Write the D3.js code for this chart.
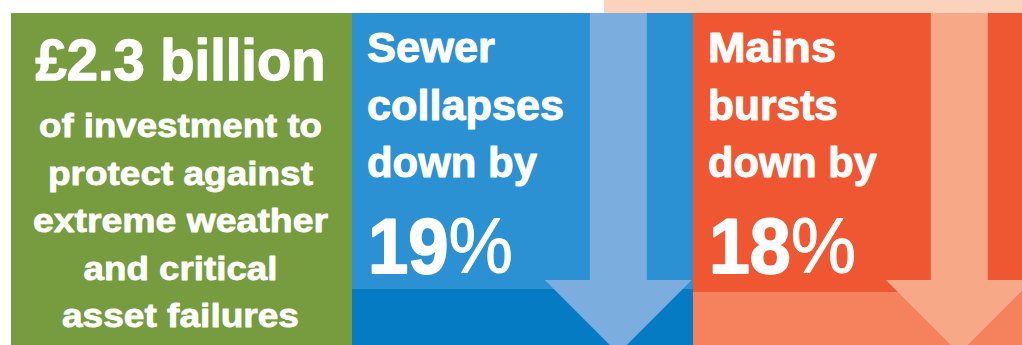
<!DOCTYPE html>
<html><head><meta charset="utf-8">
<script src="https://cdn.jsdelivr.net/npm/d3@7"></script>
<style>html,body{margin:0;padding:0;background:#fff;overflow:hidden}</style>
</head><body>
<svg id="c" width="1022" height="345"></svg>
<script>
// ---- data ----
const categories = ["Investment", "Sewer collapses", "Mains bursts"];
const values = [2.3, 19, 18];
const valueLabels = ["£2.3 billion", "19", "18"];
const investmentLines = ["of investment to", "protect against", "extreme weather", "and critical", "asset failures"];
const sewerLines = ["Sewer", "collapses", "down by"];
const mainsLines = ["Mains", "bursts", "down by"];

// ---- styles ----
const mainColors = ["#769c3f", "#2b91d3", "#ef5732"];
const bandColors = [null, "#057bc3", "#f5825c"];
const arrowColors = [null, "#7badde", "#f7a886"];
const FONT = "'Liberation Sans',Arial,sans-serif";

const W = 1022, H = 345;
const svg = d3.select("#c");
const x = d3.scaleBand().domain(categories).range([11, 1034]).padding(0);
const bw = x.bandwidth();

// peach strip at top
svg.append("rect").attr("x", 604).attr("y", 0).attr("width", W - 604).attr("height", 13).attr("fill", "#fbd2bc");

// panels
const bandTop = [null, 289, 292];
categories.forEach((c, i) => {
  svg.append("rect").attr("x", x(c)).attr("y", 13).attr("width", bw).attr("height", H - 13).attr("fill", mainColors[i]);
  if (bandColors[i]) {
    svg.append("rect").attr("x", x(c)).attr("y", bandTop[i]).attr("width", bw).attr("height", H - bandTop[i]).attr("fill", bandColors[i]);
  }
});

// arrows
categories.forEach((c, i) => {
  if (!arrowColors[i]) return;
  const cx = x(c) + 266.3;
  const sh = 28.5, hh = 73.5, headY = 280, top = 13;
  const pts = [[cx - sh, top], [cx + sh, top], [cx + sh, headY], [cx + hh, headY], [cx, headY + hh], [cx - hh, headY], [cx - sh, headY]];
  svg.append("path").attr("d", d3.line()(pts) + "Z").attr("fill", arrowColors[i]);
});

function txt(str, px, py, size, len, anchor, sw) {
  const t = svg.append("text").attr("x", px).attr("y", py).attr("fill", "#fff")
    .attr("stroke", "#fff").attr("stroke-width", sw).attr("stroke-linejoin", "round")
    .attr("font-family", FONT).attr("font-weight", 700).attr("font-size", size)
    .attr("text-anchor", anchor || "start").attr("textLength", len).attr("lengthAdjust", "spacingAndGlyphs");
  return t;
}

// green panel
const gcx = x(categories[0]) + bw / 2 - 1;
txt(valueLabels[0], gcx, 80, 58, 290, "middle", 1.4).text(valueLabels[0]);
const invWidths = [283, 265, 295, 194, 237];
const invBase = [137, 184.5, 232, 279.5, 327];
investmentLines.forEach((l, i) => txt(l, gcx, invBase[i], 34, invWidths[i], "middle", 0.8).text(l));

// blue & orange panels
const lineBase = [62, 119.5, 177];
const sewerW = [128, 197, 170];
const mainsW = [128, 130, 169];
[[sewerLines, sewerW, 1, 145], [mainsLines, mainsW, 2, 147]].forEach(([lines, ws, i, numW]) => {
  const lx = x(categories[i]) + 15;
  lines.forEach((l, j) => txt(l, lx, lineBase[j], 42, ws[j], "start", 1).text(l));
  const t = txt("", lx + 1, 273, 77, numW, "start", 1.8);
  t.append("tspan").text(valueLabels[i]);
  t.append("tspan").attr("font-weight", 400).attr("stroke-width", 1).text("%");
});
</script>
</body></html>
